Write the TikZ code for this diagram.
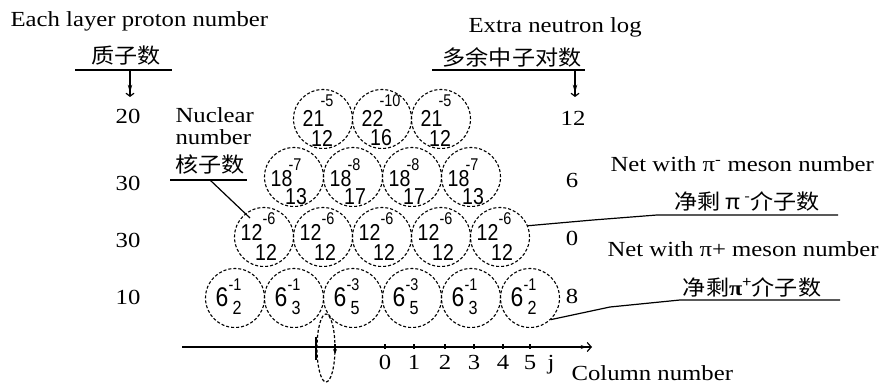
\documentclass[tikz,border=0pt]{standalone}
\usepackage{fontspec}
\setmainfont{Liberation Serif}[FakeStretch=1.15]
\newfontfamily\cjk{Noto Sans CJK SC}[FakeStretch=1.1]
\newfontfamily\numf{Liberation Sans}[FakeStretch=0.85]
\usetikzlibrary{arrows.meta}

\begin{document}
\begin{tikzpicture}[x=1pt,y=-1pt,line width=1.2pt,
  ball/.style={circle,draw,densely dashed,line width=1.1pt,minimum size=59pt,inner sep=0pt},
  big/.style={inner sep=0pt,font=\numf\fontsize{23}{23}\selectfont},
  sml/.style={inner sep=0pt,font=\numf\fontsize{17}{17}\selectfont},
  txt/.style={inner sep=0pt,font=\fontsize{21.5}{21.5}\selectfont},
  zh/.style={inner sep=0pt,font=\cjk\fontsize{21}{21}\selectfont},
  darr/.style={-{Stealth[length=8pt,width=4.5pt]Straight Barb[length=3pt,width=8pt]}},
  axarr/.style={-{Stealth[length=6pt,width=4pt]Straight Barb[length=4pt,width=9pt]}}]
\fill[white] (0,0) rectangle (886,387);
\useasboundingbox (0,0) rectangle (886,387);
% row 1 (top)
\foreach \i/\cx/\m/\u/\d in {1/323/21/-5/12, 2/382/22/-10/16, 3/441/21/-5/12} {
  \node[ball] (a\i) at (\cx,119) {};
  \node[big,anchor=east] (a\i m) at (\cx+2,118) {\m};
  \node[sml,anchor=west] (a\i u) at (\cx-3,101) {\u};
  \node[big] (a\i d) at (\cx-1,138) {\d};
}
% row 2
\foreach \i/\cx/\u/\d in {1/294/-7/13, 2/353/-8/17, 3/412/-8/17, 4/471/-7/13} {
  \node[ball] (b\i) at (\cx,177) {};
  \node[big,anchor=east] (b\i m) at (\cx-1,179) {18};
  \node[sml,anchor=west] (b\i u) at (\cx-6,165) {\u};
  \node[big] (b\i d) at (\cx+2,197) {\d};
}
% row 3
\foreach \i/\cx in {1/264, 2/323, 3/382, 4/441, 5/500} {
  \node[ball] (c\i) at (\cx,237) {};
  \node[big,anchor=east] (c\i m) at (\cx-1,232) {12};
  \node[sml,anchor=west] (c\i u) at (\cx-2,219) {-6};
  \node[big] (c\i d) at (\cx+2,252) {12};
}
% row 4 (bottom)
\foreach \i/\cx/\u/\d in {1/235/-1/2, 2/294/-1/3, 3/353/-3/5, 4/412/-3/5, 5/471/-1/3, 6/530/-1/2} {
  \node[ball] (d\i) at (\cx,298) {};
  \node[big,font=\numf\fontsize{27}{27}\selectfont,anchor=east] (d\i m) at (\cx-6,297) {6};
  \node[sml,anchor=west] (d\i u) at (\cx-7,285) {\u};
  \node[sml,font=\numf\fontsize{19}{19}\selectfont,anchor=west] (d\i d) at (\cx-3,308) {\d};
}
% proton numbers (left)
\node[txt,anchor=base west] (ptitle) at (10,27) {Each layer proton number};
\node[zh] (pzh) at (126,56) {质子数};
\draw (75,70) -- (172,70);
\coordinate (parr) at (130,70);
\coordinate (parrend) at (130,97);
\draw[darr] (parr) -- (parrend);
\node[txt] (p1) at (128,116) {20};
\node[txt] (p2) at (128,183) {30};
\node[txt] (p3) at (128,240) {30};
\node[txt] (p4) at (128,297) {10};
% extra neutrons (right)
\node[txt,anchor=base west] (ntitle) at (468,33) {Extra neutron log};
\node[zh] (nzh) at (512,57) {多余中子对数};
\draw (432,70) -- (585,70);
\coordinate (narr) at (575,70);
\coordinate (narrend) at (575,97);
\draw[darr] (narr) -- (narrend);
\node[txt] (n1) at (573,118) {12};
\node[txt] (n2) at (572,180) {6};
\node[txt] (n3) at (572,238) {0};
\node[txt] (n4) at (572,296) {8};
% nucleon number label
\node[txt,anchor=base west] (nuc1) at (175,123) {Nuclear};
\node[txt,anchor=base west] (nuc2) at (175,145) {number};
\node[zh] (nuczh) at (210,165) {核子数};
\draw (170,180) -- (247,180);
\coordinate (nucp) at (210,180);
\coordinate (nucend) at (250,218);
\draw (nucp) -- (nucend);
% net pi- label
\node[txt,anchor=base west] (pim) at (610,172) {Net with π\textsuperscript{-} meson number};
\node[zh] (pimzh) at (747,201) {净剩 π\,\textsuperscript{-}介子数};
\draw (c5.22) -- (593,220) -- (657,215) -- (838,215);
% net pi+ label
\node[txt,anchor=base west] (pip) at (607,257) {Net with π+ meson number};
\node[zh] (pipzh) at (752,287) {净剩{\rmfamily\bfseries π}\textsuperscript{+}介子数};
\draw (d6.-46) -- (610,307) -- (680,300) -- (840,300);
% column axis
\coordinate (ax0) at (182,347);
\coordinate (ax1) at (592,347);
\draw[axarr] (ax0) -- (ax1);
\draw (316,337) -- (316,360);
\foreach \x/\t in {385/0, 414/1, 445/2, 474/3, 503/4, 530/5} {
  \draw (\x,344) -- (\x,349);
  \node[txt,anchor=base] (t\t) at (\x,369) {\t};
}
\node[txt,anchor=base] (tj) at (551,369) {j};
\node[txt,anchor=base west] (colt) at (571,380) {Column number};
% rotation ellipse
\draw[densely dashed] (326,348) ellipse [x radius=9pt, y radius=34pt];
\draw[-{Stealth[length=5pt,width=4pt]}] (335,344) -- (335,354);
\end{tikzpicture}
\end{document}
